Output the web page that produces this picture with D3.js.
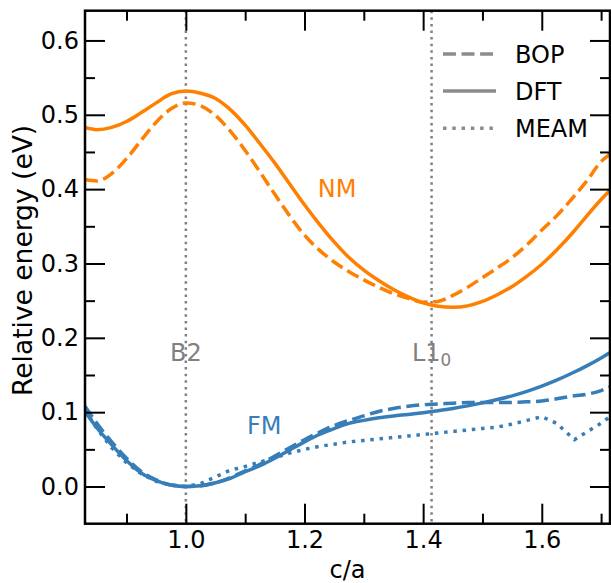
<!DOCTYPE html>
<html><head><meta charset="utf-8">
<script src="https://cdn.jsdelivr.net/npm/d3@7"></script>
<style>
body{margin:0;background:#fff}
svg{display:block}
text{font-family:"DejaVu Sans",sans-serif}
</style>
</head><body>
<svg id="chart" width="611" height="583"></svg>
<script>
// ---- data ----
const caGrid = [0.83, 0.85, 0.875, 0.9, 0.925, 0.95, 0.975, 1.0, 1.025, 1.05, 1.075, 1.1, 1.125, 1.15, 1.175, 1.2, 1.225, 1.25, 1.275, 1.3, 1.325, 1.35, 1.375, 1.4, 1.425, 1.45, 1.475, 1.5, 1.525, 1.55, 1.575, 1.6, 1.625, 1.655, 1.675, 1.7, 1.715];
const nmDFT  = [0.483, 0.480, 0.483, 0.491, 0.503, 0.516, 0.528, 0.532, 0.529, 0.522, 0.507, 0.486, 0.461, 0.435, 0.407, 0.379, 0.353, 0.329, 0.308, 0.291, 0.277, 0.265, 0.255, 0.247, 0.2425, 0.241, 0.243, 0.249, 0.258, 0.269, 0.283, 0.299, 0.318, 0.344, 0.363, 0.386, 0.398];
const nmBOP  = [0.413, 0.411, 0.421, 0.441, 0.466, 0.490, 0.508, 0.516, 0.512, 0.499, 0.478, 0.452, 0.423, 0.393, 0.364, 0.338, 0.318, 0.302, 0.289, 0.278, 0.268, 0.2595, 0.253, 0.248, 0.249, 0.257, 0.268, 0.281, 0.294, 0.308, 0.325, 0.345, 0.364, 0.391, 0.410, 0.437, 0.447];
const fmDFT  = [0.101, 0.079, 0.056, 0.035, 0.018, 0.008, 0.002, 0.000, 0.001, 0.005, 0.011, 0.020, 0.028, 0.038, 0.049, 0.060, 0.070, 0.078, 0.085, 0.089, 0.0925, 0.095, 0.097, 0.0993, 0.102, 0.105, 0.1085, 0.1125, 0.117, 0.122, 0.128, 0.135, 0.143, 0.154, 0.162, 0.173, 0.180];
const fmBOP  = [0.108, 0.085, 0.060, 0.038, 0.020, 0.009, 0.002, 0.000, 0.001, 0.005, 0.012, 0.021, 0.030, 0.041, 0.052, 0.063, 0.073, 0.082, 0.089, 0.095, 0.101, 0.105, 0.108, 0.110, 0.111, 0.112, 0.113, 0.113, 0.113, 0.113, 0.114, 0.115, 0.118, 0.122, 0.124, 0.129, 0.134];
const fmMEAM = [0.104, 0.078, 0.052, 0.032, 0.017, 0.007, 0.002, 0.000, 0.004, 0.013, 0.022, 0.027, 0.033, 0.039, 0.045, 0.050, 0.054, 0.057, 0.060, 0.062, 0.064, 0.066, 0.068, 0.070, 0.072, 0.074, 0.076, 0.078, 0.080, 0.084, 0.089, 0.094, 0.085, 0.063, 0.073, 0.085, 0.094];
const xMajorTicks = [1.0, 1.2, 1.4, 1.6];
const xMinorTicks = [0.9, 1.1, 1.3, 1.5, 1.7];
const yMajorTicks = [0.0, 0.1, 0.2, 0.3, 0.4, 0.5, 0.6];
const yMinorTicks = [0.05, 0.15, 0.25, 0.35, 0.45, 0.55];
const phaseLines = [1.0, Math.SQRT2];
const legendItems = ["BOP", "DFT", "MEAM"];

// ---- layout ----
const svg = d3.select("#chart");
const L = 85, R = 610, T = 10.7, B = 523.7;
const x = d3.scaleLinear().domain([0.83, 1.715]).range([L, R]);
const y = d3.scaleLinear().domain([-0.05, 0.64]).range([B, T]);
const ORANGE = "#ff7f00", BLUE = "#377eb8", GRAY = "#808080";
const FS = 24;

svg.append("defs").append("clipPath").attr("id", "clip")
  .append("rect").attr("x", L).attr("y", T).attr("width", R - L).attr("height", B - T);

const plot = svg.append("g").attr("clip-path", "url(#clip)");

// vertical phase lines
plot.selectAll("line.phase").data(phaseLines).join("line")
  .attr("class", "phase")
  .attr("x1", d => x(d)).attr("x2", d => x(d))
  .attr("y1", T).attr("y2", B)
  .attr("stroke", GRAY).attr("stroke-width", 2.5).attr("stroke-dasharray", "2.5,4.1");

const lw = 3.5;
const dashBOP = `${3.7*lw},${1.6*lw}`;
const dashMEAM = `${1*lw},${1.65*lw}`;
const smooth = d3.line().x((d, i) => x(caGrid[i])).y(d => y(d)).curve(d3.curveMonotoneX);
const straight = d3.line().x((d, i) => x(caGrid[i])).y(d => y(d));

const series = [
  {v: nmDFT, c: ORANGE, dash: null, gen: smooth},
  {v: nmBOP, c: ORANGE, dash: dashBOP, gen: smooth},
  {v: fmMEAM, c: BLUE, dash: dashMEAM, gen: straight},
  {v: fmBOP, c: BLUE, dash: dashBOP, gen: smooth},
  {v: fmDFT, c: BLUE, dash: null, gen: smooth}
];
series.forEach(s => {
  plot.append("path").attr("d", s.gen(s.v))
    .attr("fill", "none").attr("stroke", s.c).attr("stroke-width", lw)
    .attr("stroke-dasharray", s.dash).attr("stroke-linejoin", "round");
});

// annotations
svg.append("text").attr("x", x(1.2225)).attr("y", y(0.3898)).attr("fill", ORANGE)
  .attr("font-size", FS).text("NM");
svg.append("text").attr("x", x(1.103)).attr("y", y(0.0704)).attr("fill", BLUE)
  .attr("font-size", FS).text("FM");
svg.append("text").attr("x", x(1.0)).attr("y", y(0.169)).attr("fill", GRAY)
  .attr("font-size", FS).attr("text-anchor", "middle").text("B2");
const l10 = svg.append("text").attr("x", x(Math.SQRT2)).attr("y", y(0.169)).attr("fill", GRAY)
  .attr("font-size", FS).attr("text-anchor", "middle");
l10.append("tspan").text("L1");
l10.append("tspan").attr("font-size", FS * 0.7).attr("dy", 5).text("0");

// axes (inward ticks)
function styleAxis(g) {
  g.select(".domain").remove();
  g.selectAll(".tick line").attr("stroke", "#000").attr("stroke-width", 2);
  g.selectAll(".tick text").attr("font-size", FS).attr("fill", "#000")
    .attr("font-family", "DejaVu Sans, sans-serif");
}
svg.append("g").attr("transform", `translate(0,${B})`)
  .call(d3.axisBottom(x).tickValues(xMajorTicks).tickFormat(d3.format(".1f")).tickSizeInner(-20).tickSizeOuter(0).tickPadding(7))
  .call(styleAxis);
svg.append("g").attr("transform", `translate(0,${B})`)
  .call(d3.axisBottom(x).tickValues(xMinorTicks).tickFormat("").tickSizeInner(-10).tickSizeOuter(0))
  .call(styleAxis);
svg.append("g").attr("transform", `translate(0,${T})`)
  .call(d3.axisTop(x).tickValues(xMajorTicks).tickFormat("").tickSizeInner(-20).tickSizeOuter(0))
  .call(styleAxis);
svg.append("g").attr("transform", `translate(0,${T})`)
  .call(d3.axisTop(x).tickValues(xMinorTicks).tickFormat("").tickSizeInner(-10).tickSizeOuter(0))
  .call(styleAxis);
svg.append("g").attr("transform", `translate(${L},0)`)
  .call(d3.axisLeft(y).tickValues(yMajorTicks).tickFormat(d3.format(".1f")).tickSizeInner(-20).tickSizeOuter(0).tickPadding(6))
  .call(styleAxis);
svg.append("g").attr("transform", `translate(${L},0)`)
  .call(d3.axisLeft(y).tickValues(yMinorTicks).tickFormat("").tickSizeInner(-10).tickSizeOuter(0))
  .call(styleAxis);
svg.append("g").attr("transform", `translate(${R},0)`)
  .call(d3.axisRight(y).tickValues(yMajorTicks).tickFormat("").tickSizeInner(-20).tickSizeOuter(0))
  .call(styleAxis);
svg.append("g").attr("transform", `translate(${R},0)`)
  .call(d3.axisRight(y).tickValues(yMinorTicks).tickFormat("").tickSizeInner(-10).tickSizeOuter(0))
  .call(styleAxis);

// frame
svg.append("rect").attr("x", L).attr("y", T).attr("width", R - L).attr("height", B - T)
  .attr("fill", "none").attr("stroke", "#000").attr("stroke-width", 2.5);

// axis labels
svg.append("text").attr("x", (L + R) / 2).attr("y", 578).attr("text-anchor", "middle")
  .attr("font-size", FS).attr("fill", "#000").text("c/a");
svg.append("text").attr("transform", `translate(32,396) rotate(-90)`)
  .attr("text-anchor", "start").attr("font-size", 26.5).attr("fill", "#000")
  .text("Relative energy (eV)");

// legend
const legY = [54, 91, 128.3];
const legDash = [dashBOP, null, dashMEAM];
legendItems.forEach((name, i) => {
  svg.append("line").attr("x1", 443).attr("x2", 496).attr("y1", legY[i]).attr("y2", legY[i])
    .attr("stroke", "#8c8c8c").attr("stroke-width", lw).attr("stroke-dasharray", legDash[i]);
  svg.append("text").attr("x", 515).attr("y", legY[i] + 9).attr("font-size", FS)
    .attr("fill", "#000").text(name);
});
</script>
</body></html>
